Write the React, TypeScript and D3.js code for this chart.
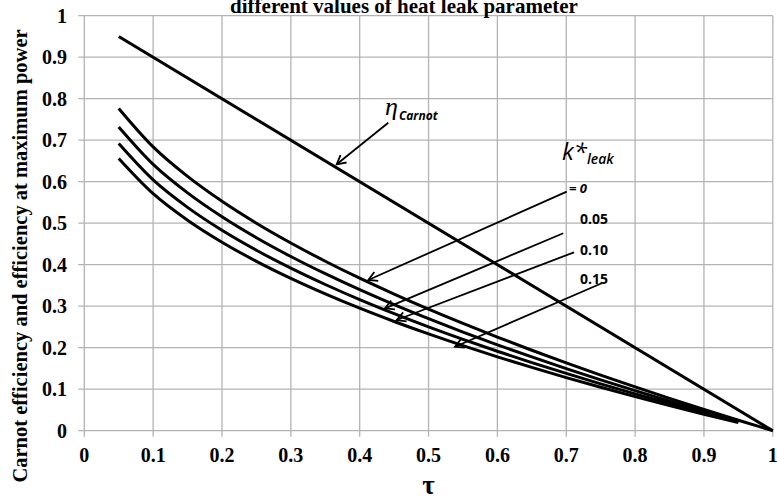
import React from "react";
import * as d3 from "d3";

const tau = [0.05, 0.1, 0.15, 0.2, 0.25, 0.3, 0.35, 0.4, 0.45, 0.5, 0.55, 0.6, 0.65, 0.7, 0.75, 0.8, 0.85, 0.9, 0.95];
const etaK0 = [0.7764, 0.6838, 0.6127, 0.5528, 0.5, 0.4523, 0.4084, 0.3675, 0.3292, 0.2929, 0.2584, 0.2254, 0.1938, 0.1633, 0.134, 0.1056, 0.078, 0.0513, 0.0253];
const etaK005 = [0.7316, 0.6416, 0.573, 0.5155, 0.4651, 0.4198, 0.3783, 0.3398, 0.3038, 0.2699, 0.2377, 0.207, 0.1777, 0.1496, 0.1226, 0.0965, 0.0712, 0.0467, 0.023];
const etaK010 = [0.6918, 0.6043, 0.5381, 0.4829, 0.4348, 0.3917, 0.3523, 0.3159, 0.2821, 0.2502, 0.2201, 0.1914, 0.1641, 0.138, 0.1129, 0.0888, 0.0654, 0.0429, 0.0211];
const etaK015 = [0.656, 0.5711, 0.5072, 0.4542, 0.4082, 0.3671, 0.3297, 0.2952, 0.2632, 0.2332, 0.2049, 0.178, 0.1525, 0.128, 0.1047, 0.0822, 0.0605, 0.0397, 0.0195];
const carnotTau = [0.05, 1];
const carnotEta = [0.95, 0];
const xTicks = [0, 0.1, 0.2, 0.3, 0.4, 0.5, 0.6, 0.7, 0.8, 0.9, 1];
const yTicks = [0, 0.1, 0.2, 0.3, 0.4, 0.5, 0.6, 0.7, 0.8, 0.9, 1];
const kLabels = ["= 0", "0.05", "0.10", "0.15"];
// annotation anchors in data units: [labelX, labelY, arrowStartX, arrowStartY, tipX, tipY]
const kArrows = [
  [0.704, 0.5728, 0.7007, 0.576, 0.4125, 0.3631],
  [0.72, 0.498, 0.6957, 0.4757, 0.4367, 0.2949],
  [0.72, 0.4234, 0.7113, 0.4299, 0.4537, 0.2667],
  [0.72, 0.3535, 0.7515, 0.3552, 0.5384, 0.2024],
];
const carnotArrow = [0.4415, 0.742, 0.3666, 0.642];

export default function App() {
  const W = 777, H = 499;
  const x = d3.scaleLinear().domain([0, 1]).range([84.3, 772.8]);
  const y = d3.scaleLinear().domain([0, 1]).range([430.7, 15.7]);
  const line = d3.line<[number, number]>().x(d => x(d[0])).y(d => y(d[1])).curve(d3.curveMonotoneX);
  const series = [
    tau.map((t, i) => [t, etaK0[i]] as [number, number]).concat([[1, 0]]),
    tau.map((t, i) => [t, etaK005[i]] as [number, number]),
    tau.map((t, i) => [t, etaK010[i]] as [number, number]),
    tau.map((t, i) => [t, etaK015[i]] as [number, number]),
  ];
  const carnot = carnotTau.map((t, i) => [t, carnotEta[i]] as [number, number]);
  const grid = "#b3b3b3";
  const serif = "'Liberation Serif', 'Times New Roman', serif";
  const sans = "'Open Sans', 'DejaVu Sans', sans-serif";

  const arrowHead = (x1: number, y1: number, x2: number, y2: number) => {
    const a = Math.atan2(y2 - y1, x2 - x1);
    const L = 10, s = 0.5;
    const p1 = [x2 - L * Math.cos(a - s), y2 - L * Math.sin(a - s)];
    const p2 = [x2 - L * Math.cos(a + s), y2 - L * Math.sin(a + s)];
    return `M${p1[0]},${p1[1]}L${x2},${y2}L${p2[0]},${p2[1]}`;
  };

  return (
    <svg width={W} height={H} style={{ position: "absolute", left: 0, top: 0, background: "#fff" }}>
      <rect width={W} height={H} fill="#fff" />
      {/* grid */}
      {xTicks.map(t => (
        <line key={"gx" + t} x1={x(t)} x2={x(t)} y1={y(1)} y2={y(0) + 6} stroke={grid} strokeWidth={1.3} />
      ))}
      {yTicks.map(t => (
        <line key={"gy" + t} x1={x(0) - 6} x2={x(1)} y1={y(t)} y2={y(t)} stroke={grid} strokeWidth={1.3} />
      ))}
      {/* tick labels */}
      {xTicks.map(t => (
        <text key={"tx" + t} x={x(t)} y={462} textAnchor="middle" fontFamily={serif} fontWeight="bold" fontSize={20}>
          {d3.format("~g")(t)}
        </text>
      ))}
      {yTicks.map(t => (
        <text key={"ty" + t} x={67} y={y(t) + 7} textAnchor="end" fontFamily={serif} fontWeight="bold" fontSize={20}>
          {d3.format("~g")(t)}
        </text>
      ))}
      {/* title (partially cut, as in the reference) */}
      <text x={404} y={13} textAnchor="middle" fontFamily={serif} fontWeight="bold" fontSize={21}>
        different values of heat leak parameter
      </text>
      {/* axis titles */}
      <text transform={`translate(27,${256}) rotate(-90)`} textAnchor="middle" fontFamily={serif} fontWeight="bold" fontSize={20.5}>
        Carnot efficiency and efficiency at maximum power
      </text>
      <text x={x(0.5)} y={494} textAnchor="middle" fontFamily={serif} fontWeight="bold" fontSize={27}>τ</text>
      {/* curves */}
      {series.map((s, i) => (
        <path key={"s" + i} d={line(s) || ""} fill="none" stroke="#000" strokeWidth={3} />
      ))}
      <path d={line(carnot) || ""} fill="none" stroke="#000" strokeWidth={3} />
      {/* Carnot annotation */}
      <line x1={x(carnotArrow[0])} y1={y(carnotArrow[1])} x2={x(carnotArrow[2])} y2={y(carnotArrow[3])} stroke="#000" strokeWidth={1.8} />
      <path d={arrowHead(x(carnotArrow[0]), y(carnotArrow[1]), x(carnotArrow[2]), y(carnotArrow[3]))} fill="none" stroke="#000" strokeWidth={1.8} />
      <text x={x(0.4366)} y={y(0.7607)} fontFamily={serif} fontStyle="italic" fontSize={26}>η</text>
      <text x={x(0.4366) + 14} y={y(0.7607) + 5} fontFamily={sans} fontStyle="italic" fontWeight="bold" fontSize={12}>Carnot</text>
      {/* k*leak annotation */}
      <text x={x(0.6938)} y={y(0.652)} fontFamily={sans} fontStyle="italic" fontSize={24}>k*</text>
      <text x={x(0.6938) + 25} y={y(0.652) + 4} fontFamily={sans} fontStyle="italic" fontWeight="600" fontSize={14}>leak</text>
      {kArrows.map((a, i) => (
        <g key={"k" + i}>
          <text x={x(a[0])} y={y(a[1])} fontFamily={sans} fontWeight="bold" fontStyle={i === 0 ? "italic" : "normal"} fontSize={i === 0 ? 13 : 14}>
            {kLabels[i]}
          </text>
          <line x1={x(a[2])} y1={y(a[3])} x2={x(a[4])} y2={y(a[5])} stroke="#000" strokeWidth={1.8} />
          <path d={arrowHead(x(a[2]), y(a[3]), x(a[4]), y(a[5]))} fill="none" stroke="#000" strokeWidth={1.8} />
        </g>
      ))}
    </svg>
  );
}
